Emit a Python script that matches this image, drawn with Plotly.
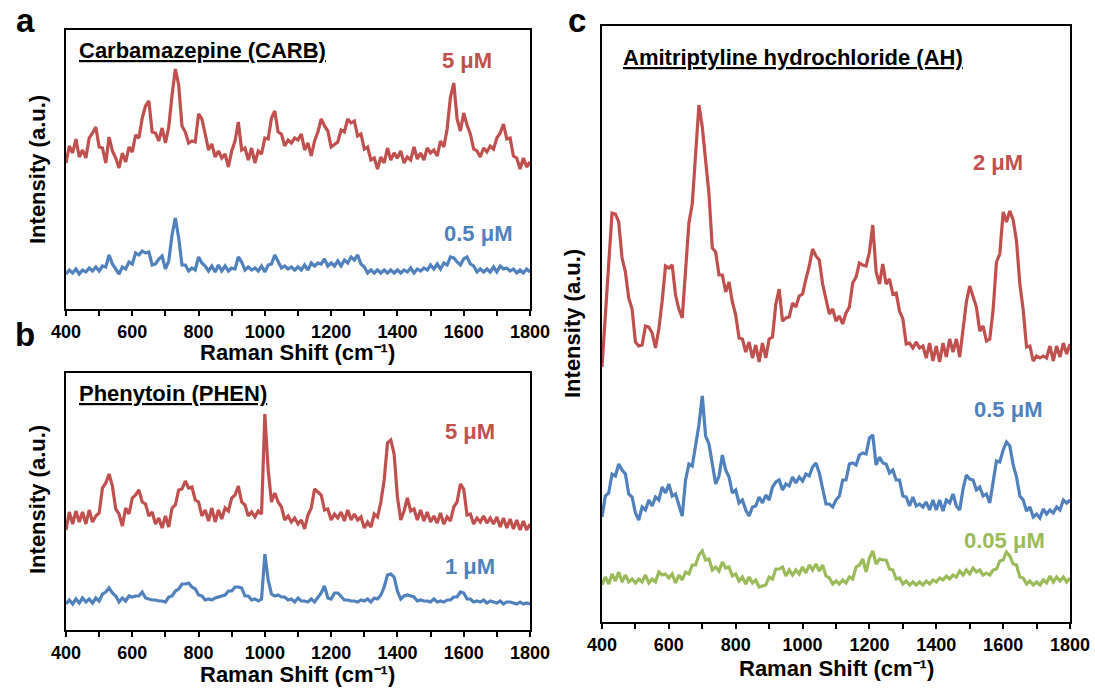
import plotly.graph_objects as go

# ---------------- data (arbitrary intensity units) ----------------
RAMAN_SHIFT = list(range(400, 1801, 10))  # cm-1 sampling grid

CARB_5UM = [146, 163, 156, 170, 152, 159, 151, 171, 176, 182, 162, 161, 146, 172, 158, 151, 141, 156, 147, 162,
            157, 174, 171, 191, 203, 208, 177, 176, 168, 181, 166, 182, 214, 240, 224, 183, 177, 166, 168, 167,
            195, 190, 175, 159, 165, 152, 158, 151, 155, 142, 158, 168, 187, 159, 161, 149, 161, 146, 158, 155,
            171, 170, 191, 198, 177, 175, 163, 169, 166, 171, 169, 175, 159, 166, 153, 168, 177, 190, 183, 178,
            162, 165, 167, 179, 177, 190, 186, 188, 173, 175, 160, 162, 149, 151, 140, 152, 146, 161, 149, 156,
            151, 158, 146, 152, 149, 162, 150, 156, 149, 161, 156, 159, 153, 168, 162, 180, 212, 226, 190, 178,
            196, 184, 175, 160, 158, 152, 161, 157, 163, 160, 171, 176, 185, 170, 171, 153, 151, 140, 151, 142, 147]

CARB_05UM = [35, 39, 36, 40, 35, 39, 37, 41, 38, 42, 38, 43, 42, 54, 45, 40, 35, 42, 40, 47,
             45, 56, 54, 58, 56, 57, 44, 45, 50, 53, 40, 48, 74, 91, 71, 44, 44, 38, 41, 39,
             52, 46, 43, 38, 43, 37, 44, 38, 43, 38, 41, 40, 52, 47, 39, 42, 39, 41, 38, 43,
             37, 44, 45, 54, 48, 41, 43, 40, 42, 39, 42, 39, 44, 39, 46, 43, 46, 45, 50, 43,
             46, 43, 48, 43, 49, 46, 52, 49, 54, 45, 42, 36, 39, 36, 39, 36, 39, 36, 39, 36,
             39, 36, 39, 37, 41, 36, 40, 38, 41, 39, 44, 40, 45, 40, 46, 44, 52, 51, 47, 44,
             50, 52, 45, 43, 37, 40, 37, 40, 37, 42, 37, 43, 40, 41, 38, 40, 36, 39, 36, 40, 37]

PHEN_5UM = [100, 118, 106, 119, 108, 118, 106, 120, 108, 114, 117, 142, 147, 156, 144, 121, 116, 104, 122, 116,
            132, 135, 140, 128, 126, 114, 118, 106, 112, 102, 114, 103, 122, 125, 140, 141, 149, 142, 143, 130,
            128, 114, 120, 109, 122, 108, 120, 111, 122, 119, 132, 135, 144, 128, 125, 114, 118, 113, 119, 116,
            216, 160, 128, 137, 128, 123, 110, 114, 108, 112, 106, 110, 101, 115, 122, 141, 138, 135, 120, 121,
            110, 116, 112, 118, 109, 120, 110, 116, 110, 113, 102, 108, 103, 116, 113, 128, 150, 187, 190, 176,
            133, 110, 119, 132, 119, 121, 110, 120, 109, 118, 108, 114, 107, 117, 106, 113, 109, 123, 128, 146,
            141, 115, 116, 106, 112, 108, 114, 107, 112, 106, 113, 103, 112, 102, 111, 101, 110, 100, 109, 100, 106]

PHEN_1UM = [26, 30, 26, 31, 27, 32, 28, 31, 27, 32, 29, 36, 38, 42, 37, 34, 28, 32, 29, 34,
            33, 34, 34, 38, 32, 31, 30, 30, 29, 29, 28, 33, 34, 39, 41, 46, 46, 47, 43, 41,
            35, 34, 30, 31, 30, 32, 33, 34, 35, 39, 39, 43, 43, 42, 34, 34, 30, 31, 29, 31,
            76, 50, 36, 34, 35, 33, 33, 30, 31, 28, 32, 29, 29, 28, 31, 28, 32, 37, 44, 32,
            31, 37, 37, 33, 30, 30, 29, 29, 28, 30, 29, 31, 28, 32, 31, 35, 43, 55, 56, 53,
            39, 31, 34, 35, 34, 33, 29, 30, 29, 29, 28, 31, 28, 29, 28, 30, 30, 33, 33, 38,
            37, 31, 31, 28, 29, 28, 30, 27, 29, 28, 27, 29, 26, 28, 28, 27, 26, 28, 26, 27, 26]

AH_2UM = [255, 310, 366, 409, 408, 400, 364, 350, 324, 313, 280, 276, 277, 296, 295, 289, 274, 293, 321, 356,
          354, 357, 327, 313, 304, 351, 399, 418, 463, 517, 495, 458, 428, 374, 370, 347, 347, 330, 340, 320,
          307, 284, 283, 270, 280, 264, 277, 260, 279, 264, 283, 285, 318, 333, 301, 304, 305, 319, 315, 326,
          328, 343, 356, 373, 366, 362, 338, 323, 308, 313, 301, 306, 298, 309, 315, 339, 345, 359, 357, 356,
          370, 397, 350, 338, 358, 338, 343, 328, 329, 311, 303, 278, 279, 274, 280, 274, 276, 264, 279, 261,
          276, 260, 279, 265, 283, 270, 283, 265, 295, 320, 336, 326, 315, 291, 296, 281, 283, 312, 360, 368,
          410, 400, 411, 402, 381, 338, 312, 275, 276, 261, 266, 264, 266, 264, 276, 261, 276, 265, 279, 268, 278]

AH_05UM = [105, 126, 129, 148, 146, 158, 152, 148, 128, 125, 109, 102, 115, 112, 122, 116, 125, 122, 135, 129,
           138, 126, 128, 116, 106, 142, 158, 156, 175, 197, 226, 186, 178, 156, 138, 146, 167, 152, 145, 129,
           132, 119, 122, 112, 106, 115, 116, 125, 119, 127, 122, 135, 140, 142, 132, 138, 136, 145, 139, 145,
           141, 148, 146, 155, 159, 149, 135, 118, 118, 115, 122, 126, 142, 142, 158, 159, 157, 167, 169, 168,
           184, 187, 157, 165, 159, 158, 149, 152, 142, 142, 126, 125, 116, 125, 116, 118, 115, 120, 112, 122,
           112, 122, 111, 122, 119, 128, 116, 112, 133, 147, 143, 142, 132, 135, 126, 128, 119, 140, 161, 160,
           172, 180, 176, 157, 145, 126, 122, 111, 115, 105, 108, 104, 113, 108, 112, 109, 115, 112, 122, 119, 122]

AH_005UM = [37, 45, 38, 48, 41, 50, 40, 47, 40, 43, 39, 43, 40, 47, 39, 43, 40, 50, 47, 48,
            44, 48, 39, 47, 42, 50, 48, 57, 57, 67, 71, 62, 63, 52, 55, 51, 60, 54, 55, 46,
            48, 41, 45, 38, 45, 39, 42, 35, 36, 37, 45, 43, 53, 53, 55, 46, 52, 47, 52, 48,
            55, 49, 57, 52, 58, 51, 57, 46, 44, 38, 41, 38, 42, 39, 45, 43, 55, 57, 63, 50,
            64, 71, 58, 63, 62, 62, 53, 52, 43, 44, 38, 41, 37, 40, 37, 40, 37, 41, 38, 42,
            40, 44, 42, 46, 43, 47, 45, 51, 47, 52, 48, 54, 50, 52, 47, 49, 47, 52, 53, 61,
            62, 70, 66, 58, 57, 45, 44, 38, 41, 37, 40, 37, 42, 39, 46, 40, 45, 41, 45, 40, 44]

X_TICKS = [400, 600, 800, 1000, 1200, 1400, 1600, 1800]
PANEL_LETTERS = ["a", "b", "c"]
PANEL_TITLES = ["Carbamazepine (CARB)", "Phenytoin (PHEN)", "Amitriptyline hydrochloride (AH)"]
CONC_LABELS = ["5 μM", "0.5 μM", "5 μM", "1 μM", "2 μM", "0.5 μM", "0.05 μM"]
X_TITLE = "Raman Shift (cm\u207b\u00b9)"
Y_TITLE = "Intensity (a.u.)"

# ---------------- style ----------------
RED, BLUE, GREEN = "#C0504D", "#4F81BD", "#9BBB59"
W, H = 1095, 688
FONT = "Arial, Liberation Sans, sans-serif"

# plot boxes in pixels: (left, top, right, bottom)
BOX = {"a": (66, 30, 530, 309), "b": (66, 373, 530, 630), "c": (602, 26, 1070, 622)}

fig = go.Figure()

series = [
    (CARB_5UM, RED, "x", "y"), (CARB_05UM, BLUE, "x", "y"),
    (PHEN_5UM, RED, "x2", "y2"), (PHEN_1UM, BLUE, "x2", "y2"),
    (AH_2UM, RED, "x3", "y3"), (AH_05UM, BLUE, "x3", "y3"), (AH_005UM, GREEN, "x3", "y3"),
]
for ys, col, xa, ya in series:
    fig.add_trace(go.Scatter(x=RAMAN_SHIFT, y=ys, mode="lines",
                             line=dict(color=col, width=3.2),
                             xaxis=xa, yaxis=ya, showlegend=False, hoverinfo="skip"))

axis_common = dict(showline=True, linecolor="black", linewidth=2, mirror=True,
                   showgrid=False, zeroline=False, automargin=False)

layout_axes = {}
for i, key in enumerate(["a", "b", "c"]):
    l, t, r, b = BOX[key]
    sfx = "" if i == 0 else str(i + 1)
    layout_axes["xaxis" + sfx] = dict(
        domain=[l / W, r / W], range=[400, 1800], anchor="y" + sfx,
        tickmode="array", tickvals=X_TICKS, ticks="outside", ticklen=5, tickwidth=1.5,
        tickcolor="black",
        minor=dict(tickmode="linear", tick0=400, dtick=100, ticks="outside", ticklen=5,
                   tickwidth=1.5, tickcolor="black"),
        tickfont=dict(family=FONT, size=18, color="black", weight="bold"),
        **axis_common)
    ymax = b - t
    layout_axes["yaxis" + sfx] = dict(
        domain=[1 - b / H, 1 - t / H], range=[0, ymax], anchor="x" + sfx,
        showticklabels=False, ticks="", **axis_common)

fig.update_layout(width=W, height=H, autosize=False,
                  margin=dict(l=0, r=0, t=0, b=0, pad=0, autoexpand=False),
                  paper_bgcolor="white", plot_bgcolor="white",
                  **layout_axes)


def ann(text, x, y, size=22, color="black", xanchor="center", angle=0, underline=False):
    font = dict(family=FONT, size=size, color=color, weight="bold")
    if underline:
        font["lineposition"] = "under"
    fig.add_annotation(text=text, x=x / W, y=1 - y / H, xref="paper", yref="paper",
                       showarrow=False, xanchor=xanchor, yanchor="middle",
                       textangle=angle, font=font)


# panel letters
ann(PANEL_LETTERS[0], 25, 21, size=33)
ann(PANEL_LETTERS[1], 25, 334, size=33)
ann(PANEL_LETTERS[2], 577, 21, size=33)

# titles
ann(PANEL_TITLES[0], 77, 50, xanchor="left", underline=True)
ann(PANEL_TITLES[1], 77, 393, xanchor="left", underline=True)
ann(PANEL_TITLES[2], 621, 57, xanchor="left", underline=True)

# concentration labels
ann(CONC_LABELS[0], 467, 60, color=RED)
ann(CONC_LABELS[1], 478, 233, color=BLUE)
ann(CONC_LABELS[2], 470, 431, color=RED)
ann(CONC_LABELS[3], 470, 566, color=BLUE)
ann(CONC_LABELS[4], 998, 163, color=RED)
ann(CONC_LABELS[5], 1008, 410, color=BLUE)
ann(CONC_LABELS[6], 1004, 540, color=GREEN)

# axis titles
for key, yx in [("a", 352), ("b", 674), ("c", 668)]:
    l, t, r, b = BOX[key]
    ann(X_TITLE, (l + r) / 2, yx)
ann(Y_TITLE, 37, 170, angle=-90)
ann(Y_TITLE, 37, 500, angle=-90)
ann(Y_TITLE, 573, 324, angle=-90)

fig.write_html("out.html", config={"responsive": False, "displayModeBar": False},
               post_script="document.body.style.margin='0';document.body.style.overflow='hidden';")
